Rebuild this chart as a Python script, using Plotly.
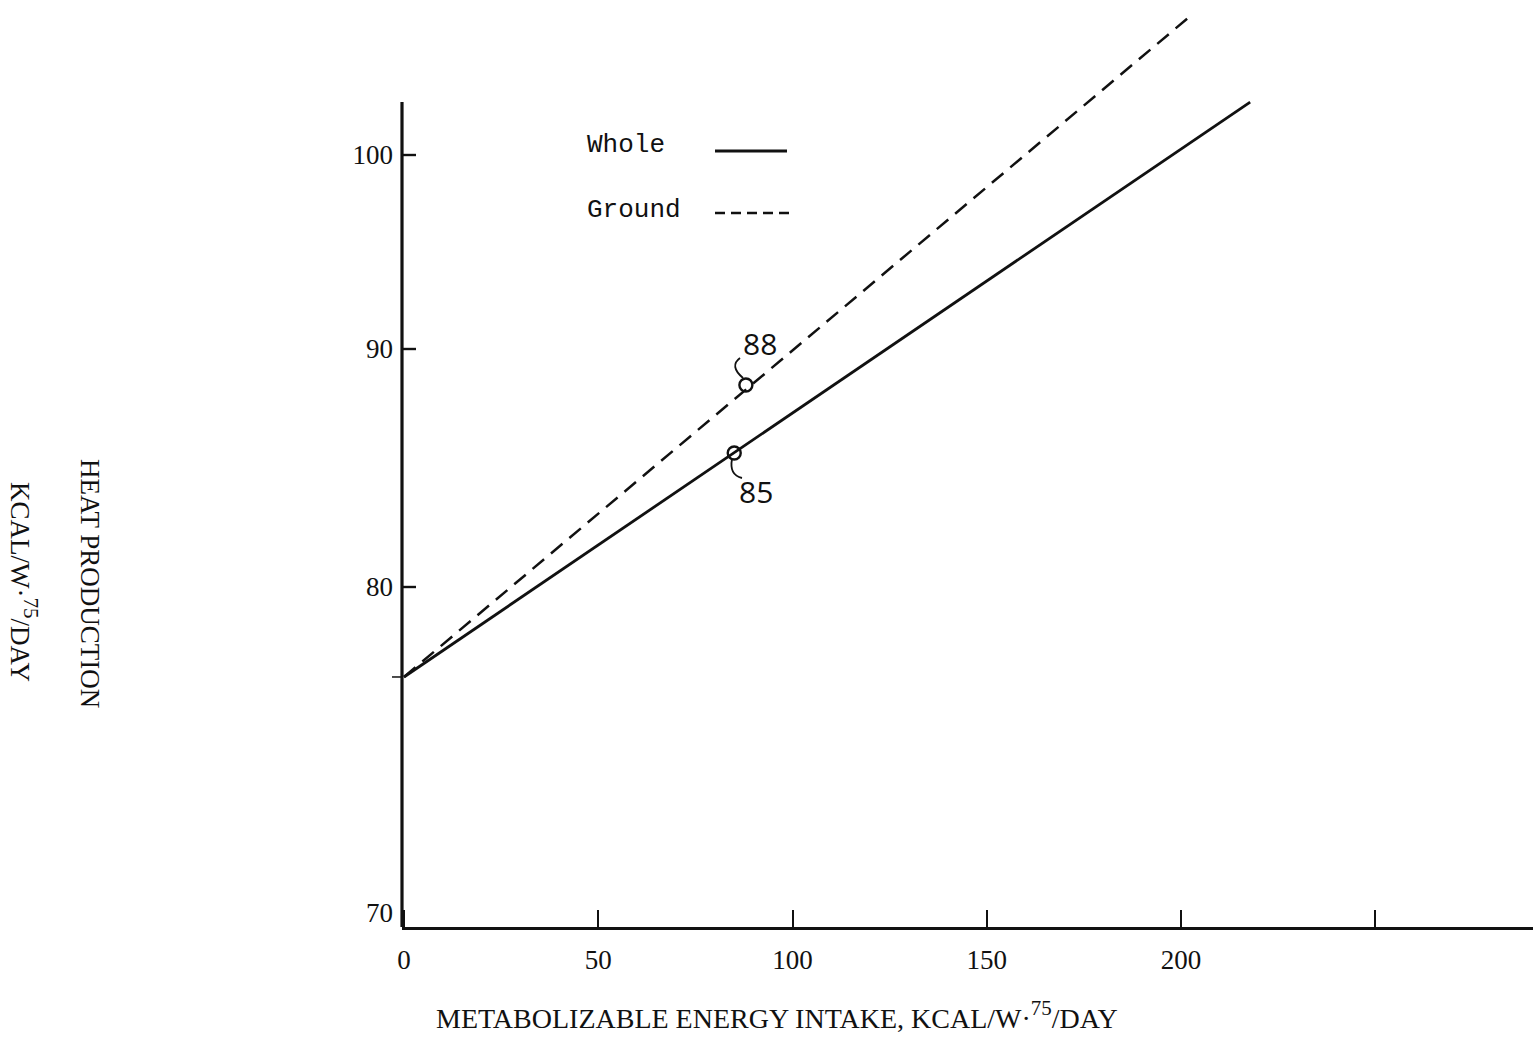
import numpy as np
import plotly.graph_objects as go

# ---------------- data ----------------
whole_x = [0, 217.8]
whole_y = [77.24, 102.73]
ground_x = [0, 202.5]
ground_y = [77.24, 107.18]
point_labels = ["85", "88"]
point_x = [85, 88]
point_y = [85.63, 88.49]
y_tick_values = [70, 80, 90, 100]
y_tick_labels = ["70", "80", "90", "100"]
x_tick_values = [0, 50, 100, 150, 200, 250]
x_tick_labels = ["0", "50", "100", "150", "200", ""]

# ---------------- hand-drawn (non-uniform) y-axis calibration ----------------
Y_CAL_VALUES = [70, 80, 90, 100]
Y_CAL_POS = [14, 340, 578, 772]


def ymap(v):
    v = np.asarray(v, dtype=float)
    out = np.interp(v, Y_CAL_VALUES, Y_CAL_POS)
    lo_slope = (Y_CAL_POS[1] - Y_CAL_POS[0]) / 10.0
    hi_slope = (Y_CAL_POS[-1] - Y_CAL_POS[-2]) / 10.0
    out = np.where(v < 70, Y_CAL_POS[0] + (v - 70) * lo_slope, out)
    out = np.where(v > 100, Y_CAL_POS[-1] + (v - 100) * hi_slope, out)
    return out


# plot-area geometry (pixels)
W, H = 1533, 1040
L, T, B = 402, 0, 927
PW, PH = W - L, B - T


def px(x):
    return (x - L) / PW


def py(y):
    return (B - y) / PH


BLACK = "#111111"
SERIF = "Liberation Serif"
MONO = "Liberation Mono"

fig = go.Figure()
fig.add_trace(go.Scatter(x=whole_x, y=ymap(whole_y), mode="lines",
                         line=dict(color=BLACK, width=2.8), name="Whole",
                         showlegend=False, hoverinfo="skip"))
fig.add_trace(go.Scatter(x=ground_x, y=ymap(ground_y), mode="lines",
                         line=dict(color=BLACK, width=2.5, dash="15px,9px"),
                         name="Ground", showlegend=False, hoverinfo="skip"))
fig.add_trace(go.Scatter(x=point_x, y=ymap(point_y), mode="markers",
                         marker=dict(symbol="circle-open", size=13,
                                     color=BLACK, line=dict(width=2.4, color=BLACK)),
                         showlegend=False, hoverinfo="skip"))

shapes = []
# y axis line (drawn only up to its hand-drawn top)
shapes.append(dict(type="line", xref="paper", yref="y", x0=0, x1=0,
                   y0=0, y1=825, line=dict(color=BLACK, width=3.2)))
# y tick marks (inside) for 80, 90, 100
for v in [80, 90, 100]:
    yy = float(ymap(v))
    shapes.append(dict(type="line", xref="paper", yref="y", x0=0, x1=px(416),
                       y0=yy, y1=yy, line=dict(color=BLACK, width=2.4)))
# small mark at the common intercept
yy = float(ymap(whole_y[0]))
shapes.append(dict(type="line", xref="paper", yref="y", x0=px(392), x1=0,
                   y0=yy, y1=yy, line=dict(color=BLACK, width=1.5)))
# legend samples
shapes.append(dict(type="line", xref="paper", yref="paper", x0=px(715), x1=px(787),
                   y0=py(151), y1=py(151), line=dict(color=BLACK, width=2.8)))
shapes.append(dict(type="line", xref="paper", yref="paper", x0=px(715), x1=px(795),
                   y0=py(213), y1=py(213), line=dict(color=BLACK, width=2.5, dash="10px,6px")))


# leader curves for the labelled points
def pathpx(p0, c, p1):
    return "M {},{} Q {},{} {},{}".format(px(p0[0]), py(p0[1]), px(c[0]), py(c[1]),
                                          px(p1[0]), py(p1[1]))


shapes.append(dict(type="path", xref="paper", yref="paper",
                   path=pathpx((740, 358), (729, 366), (743, 378)),
                   line=dict(color=BLACK, width=1.8)))
shapes.append(dict(type="path", xref="paper", yref="paper",
                   path=pathpx((732, 459), (729, 475), (742, 478)),
                   line=dict(color=BLACK, width=1.8)))

annotations = []
# point labels
label_shift = {"85": (22, -38), "88": (14, 41)}
for lab, xv, yv in zip(point_labels, point_x, point_y):
    dx, dy = label_shift[lab]
    annotations.append(dict(x=xv, y=float(ymap(yv)), xref="x", yref="y", text=lab,
                            showarrow=False, xshift=dx, yshift=dy,
                            font=dict(family="Open Sans", size=30, color=BLACK)))
# legend text
annotations.append(dict(x=px(585), y=py(145), xref="paper", yref="paper", text="Whole",
                        xanchor="left", yanchor="middle", showarrow=False,
                        font=dict(family=MONO, size=26, color=BLACK)))
annotations.append(dict(x=px(585), y=py(210), xref="paper", yref="paper", text="Ground",
                        xanchor="left", yanchor="middle", showarrow=False,
                        font=dict(family=MONO, size=26, color=BLACK)))
# axis titles
SUP = "<span style='font-size:30px'><sup>75</sup></span>"
annotations.append(dict(x=px(777), y=py(1015), xref="paper", yref="paper",
                        text="METABOLIZABLE ENERGY INTAKE, KCAL/W·" + SUP + "/DAY",
                        showarrow=False, xanchor="center", yanchor="middle",
                        font=dict(family=SERIF, size=28, color=BLACK)))
annotations.append(dict(x=px(90), y=py(583), xref="paper", yref="paper",
                        text="HEAT PRODUCTION", textangle=90,
                        showarrow=False, xanchor="center", yanchor="middle",
                        font=dict(family=SERIF, size=27, color=BLACK)))
annotations.append(dict(x=px(24), y=py(582), xref="paper", yref="paper",
                        text="KCAL/W·" + SUP + "/DAY", textangle=90,
                        showarrow=False, xanchor="center", yanchor="middle",
                        font=dict(family=SERIF, size=27, color=BLACK)))

fig.update_layout(
    width=W, height=H,
    margin=dict(l=L, r=0, t=T, b=H - B, pad=0),
    plot_bgcolor="white", paper_bgcolor="white",
    shapes=shapes, annotations=annotations,
    xaxis=dict(range=[-0.515, 290.6], showgrid=False, zeroline=False,
               showline=True, linecolor=BLACK, linewidth=3.2,
               ticks="inside", ticklen=17, tickwidth=2.4, tickcolor=BLACK,
               tickmode="array", tickvals=x_tick_values, ticktext=x_tick_labels,
               tickfont=dict(family=SERIF, size=27, color=BLACK),
               ticklabelstandoff=6, fixedrange=True),
    yaxis=dict(range=[0, PH], showgrid=False, zeroline=False, showline=False,
               ticks="", tickmode="array", tickvals=list(ymap(y_tick_values)),
               ticktext=y_tick_labels,
               tickfont=dict(family=SERIF, size=27, color=BLACK),
               ticklabelstandoff=8, fixedrange=True),
)

fig.write_html("out.html",
               config={"displayModeBar": False},
               post_script="document.body.style.margin='0';"
                           "document.body.style.overflow='hidden';")
